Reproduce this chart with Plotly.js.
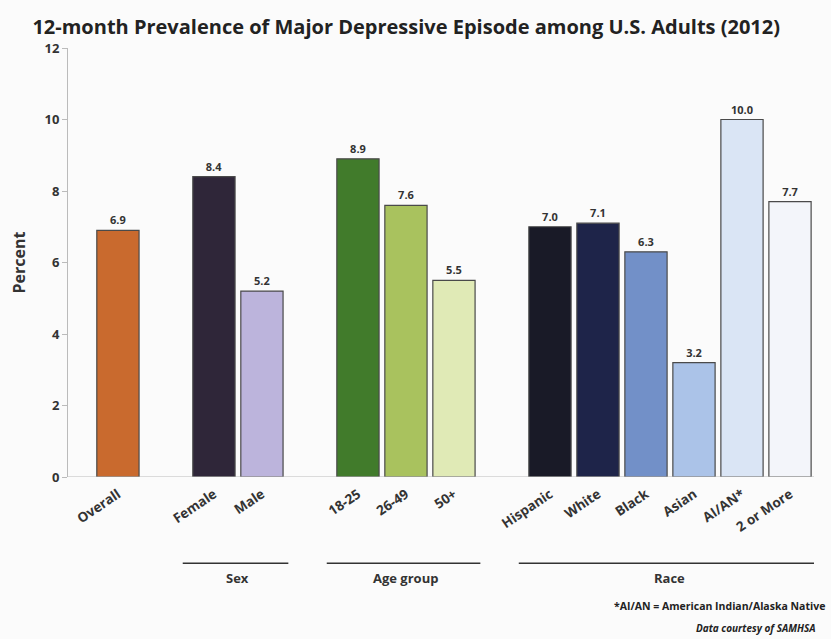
<!DOCTYPE html>
<html>
<head>
<meta charset="utf-8">
<script src="https://cdn.plot.ly/plotly-3.0.1.min.js"></script>
<style>html,body{margin:0;padding:0;background:#fbfbfb;}#chart{width:831px;height:639px;}</style>
</head>
<body>
<div id="chart"></div>
<script>
// Categories (blank entries are the gaps between groups)
var categories = ["Overall", " ", "Female", "Male", "  ", "18-25", "26-49", "50+", "   ", "Hispanic", "White", "Black", "Asian", "AI/AN*", "2 or More"];
var values =     [6.9, null, 8.4, 5.2, null, 8.9, 7.6, 5.5, null, 7.0, 7.1, 6.3, 3.2, 10.0, 7.7];
var barColors =  ["#C96A2E", "#ffffff", "#2F2639", "#BCB4DC", "#ffffff", "#417B2B", "#A9C25E", "#E0EAB6", "#ffffff", "#191A27", "#1E2449", "#7290C8", "#ABC3E8", "#DAE5F5", "#F3F5FA"];
var groupNames = ["Sex", "Age group", "Race"];
var groupStart = ["Female", "18-25", "Hispanic"];
var groupEnd =   ["Male", "50+", "2 or More"];
var yTicks = [0, 2, 4, 6, 8, 10, 12];
var titleText = "12-month Prevalence of Major Depressive Episode among U.S. Adults (2012)";
var footnote = "*AI/AN = American Indian/Alaska Native";
var credit = "Data courtesy of SAMHSA";

var font = "Open Sans, Liberation Sans, sans-serif";
var labels = values.map(function(v){ return v === null ? "" : v.toFixed(1); });

var trace = {
  type: "bar",
  x: categories,
  y: values,
  width: 0.88,
  marker: {color: barColors, line: {color: "#4a4a4a", width: 1.2}},
  text: labels,
  textposition: "outside",
  cliponaxis: false,
  textfont: {family: font, size: 11, color: "#333333", weight: "bold"},
  hoverinfo: "x+y"
};

var shapes = [], annotations = [];
for (var i = 0; i < groupNames.length; i++) {
  var a = categories.indexOf(groupStart[i]), b = categories.indexOf(groupEnd[i]);
  shapes.push({type: "line", xref: "x", yref: "paper", x0: a - 0.65, x1: b + 0.55, y0: -0.201, y1: -0.201,
    line: {color: "#333333", width: 1.5}});
  annotations.push({xref: "x", yref: "paper", x: (a + b) / 2, y: -0.21, yanchor: "top", showarrow: false,
    text: groupNames[i], font: {family: font, size: 13, color: "#333333", weight: "bold"}});
}
annotations.push({xref: "paper", yref: "paper", x: 1.018, y: -0.28, xanchor: "right", yanchor: "top", showarrow: false,
  text: footnote, font: {family: font, size: 10.5, color: "#222222", weight: "bold"}});
annotations.push({xref: "paper", yref: "paper", x: 1.005, y: -0.372, xanchor: "right", yanchor: "bottom", showarrow: false,
  text: "<i>" + credit + "</i>", font: {family: font, size: 10, color: "#222222", weight: "bold"}});

var layout = {
  width: 831, height: 639,
  margin: {l: 68, r: 17, t: 48, b: 162},
  paper_bgcolor: "#fbfbfb",
  plot_bgcolor: "#fbfbfb",
  title: {text: titleText, x: 0.039, xanchor: "left", xref: "container", y: 0.958, yanchor: "middle",
    font: {family: font, size: 20, color: "#222222", weight: "bold"}},
  showlegend: false,
  bargap: 0.1,
  xaxis: {type: "category", range: [-1.04, 14.5], showgrid: false, zeroline: false,
    showline: false, ticks: "", tickangle: -34, ticklabelstandoff: 6,
    tickfont: {family: font, size: 13.5, color: "#333333", weight: "bold"}},
  yaxis: {range: [0, 12], tickvals: yTicks, showgrid: false, zeroline: false,
    showline: true, linecolor: "#bbbbbb", linewidth: 1, ticks: "outside", ticklen: 5, tickcolor: "#bbbbbb",
    tickfont: {family: font, size: 13, color: "#333333", weight: "bold"},
    title: {text: "Percent", standoff: 14, font: {family: font, size: 16, color: "#333333", weight: "bold"}}},
  shapes: shapes.concat([{type: "line", xref: "paper", yref: "y", x0: 0, x1: 1, y0: 0, y1: 0,
    line: {color: "#bbbbbb", width: 1}}]),
  annotations: annotations
};

Plotly.newPlot("chart", [trace], layout, {displayModeBar: false, staticPlot: true});
</script>
</body>
</html>
